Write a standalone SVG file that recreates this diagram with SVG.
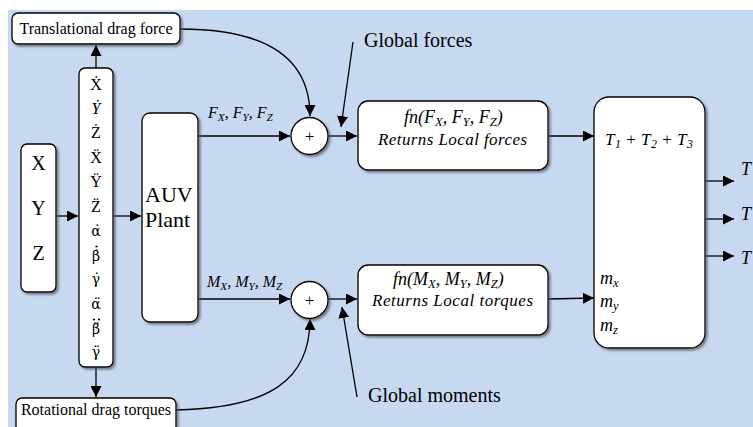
<svg xmlns="http://www.w3.org/2000/svg" width="753" height="427" viewBox="0 0 753 427">
<defs>
<filter id="sh" x="-20%" y="-20%" width="140%" height="140%">
<feDropShadow dx="2" dy="2" stdDeviation="1" flood-color="#555" flood-opacity="0.7"/>
</filter>
<marker id="ah2" viewBox="0 0 10 10" refX="10" refY="5" markerWidth="11" markerHeight="11" markerUnits="userSpaceOnUse" orient="auto">
<path d="M0,0 L10,5 L0,10 z" fill="#000"/>
</marker>
</defs>
<style>
.box{fill:#fff;stroke:#000;stroke-width:1.3;filter:url(#sh)}
.t{font-family:"Liberation Serif","DejaVu Serif","Times New Roman",serif;fill:#000}
.m{font-family:"Liberation Serif","DejaVu Serif","Times New Roman",serif;font-style:italic;fill:#000}
.g{font-family:"DejaVu Serif",serif;font-size:14px;fill:#000}
.c{fill:none;stroke:#000;stroke-width:1.3}
.sub{font-size:70%}
.dot{fill:#000}
</style>
<rect x="0" y="0" width="753" height="427" fill="#fff"/>
<rect x="8" y="10" width="745" height="417" fill="#c6d9f0"/>

<g id="connectors">
<line class="c" x1="96" y1="68" x2="96" y2="45" marker-end="url(#ah2)"/>
<line class="c" x1="96" y1="367" x2="96" y2="397" marker-end="url(#ah2)"/>
<line class="c" x1="56" y1="216" x2="78" y2="216" marker-end="url(#ah2)"/>
<line class="c" x1="113" y1="216" x2="141" y2="216" marker-end="url(#ah2)"/>
<line class="c" x1="198" y1="136" x2="290" y2="136" marker-end="url(#ah2)"/>
<line class="c" x1="198" y1="299" x2="290" y2="299" marker-end="url(#ah2)"/>
<line class="c" x1="328" y1="136" x2="357" y2="136" marker-end="url(#ah2)"/>
<line class="c" x1="328" y1="299" x2="357" y2="299" marker-end="url(#ah2)"/>
<line class="c" x1="548" y1="136" x2="594" y2="136" marker-end="url(#ah2)"/>
<line class="c" x1="548" y1="299" x2="594" y2="298" marker-end="url(#ah2)"/>
<path class="c" d="M180,29 C270,29 310,60 310,116" marker-end="url(#ah2)"/>
<path class="c" d="M176,410 C270,408 310,380 310,319" marker-end="url(#ah2)"/>
<line class="c" x1="353" y1="42" x2="341" y2="127" marker-end="url(#ah2)"/>
<line class="c" x1="357" y1="397" x2="342" y2="307" marker-end="url(#ah2)"/>
<line class="c" x1="705" y1="181" x2="734" y2="181" marker-end="url(#ah2)"/>
<line class="c" x1="705" y1="219" x2="734" y2="219" marker-end="url(#ah2)"/>
<line class="c" x1="705" y1="256" x2="734" y2="256" marker-end="url(#ah2)"/>
</g>

<g id="translational">
<rect class="box" x="12" y="13" width="168" height="31" rx="6"/>
<text class="t" x="96" y="34" font-size="16" text-anchor="middle">Translational drag force</text>
</g>

<g id="rotational">
<rect class="box" x="16" y="398" width="160" height="40" rx="6"/>
<text class="t" x="96" y="415" font-size="16" text-anchor="middle">Rotational drag torques</text>
</g>

<g id="xyz">
<rect class="box" x="21" y="144" width="35" height="148" rx="6"/>
<text class="t" x="38.5" y="170" font-size="20" text-anchor="middle">X</text>
<text class="t" x="38.5" y="215" font-size="20" text-anchor="middle">Y</text>
<text class="t" x="38.5" y="260" font-size="20" text-anchor="middle">Z</text>
</g>

<g id="states">
<rect class="box" x="79" y="68" width="34" height="299" rx="6"/>
<g class="t" font-size="16" text-anchor="middle">
<text x="96" y="90">Ẋ</text>
<text x="96" y="114" font-style="italic">Ẏ</text>
<text x="96" y="138">Ż</text>
<text x="96" y="163">Ẍ</text>
<text x="96" y="187">Ÿ</text>
<text x="96" y="212">Z̈</text>
</g>
<g class="g" text-anchor="middle">
<text x="96" y="236">α̇</text>
<text x="96" y="261">β̇</text>
<text x="96" y="284">γ̇</text>
<text x="96" y="309">α̈</text>
<text x="96" y="334">β̈</text>
<text x="96" y="357">γ̈</text>
</g>
<circle class="dot" cx="96.5" cy="246.5" r="1.1"/>
<circle class="dot" cx="94" cy="319.5" r="1.1"/>
<circle class="dot" cx="99" cy="319.5" r="1.1"/>
</g>

<g id="auv">
<rect class="box" x="142" y="113" width="56" height="209" rx="8"/>
<text class="t" x="145" y="202" font-size="22">AUV</text>
<text class="t" x="145" y="227" font-size="22">Plant</text>
</g>

<g id="flabel">
<text class="m" x="208" y="118" font-size="16">F<tspan class="sub" dy="3">X</tspan><tspan dy="-3">, F</tspan><tspan class="sub" dy="3">Y</tspan><tspan dy="-3">, F</tspan><tspan class="sub" dy="3">Z</tspan></text>
</g>
<g id="mlabel">
<text class="m" x="207" y="287" font-size="16">M<tspan class="sub" dy="3">X</tspan><tspan dy="-3">, M</tspan><tspan class="sub" dy="3">Y</tspan><tspan dy="-3">, M</tspan><tspan class="sub" dy="3">Z</tspan></text>
</g>

<g id="sum1">
<circle class="box" cx="309.5" cy="136" r="18.5"/>
<text class="t" x="309.5" y="142" font-size="17" text-anchor="middle">+</text>
</g>
<g id="sum2">
<circle class="box" cx="309.5" cy="300" r="18.5"/>
<text class="t" x="309.5" y="306" font-size="17" text-anchor="middle">+</text>
</g>

<g id="globalforces">
<text class="t" x="364" y="47" font-size="20">Global forces</text>
</g>
<g id="globalmoments">
<text class="t" x="368" y="402" font-size="20">Global moments</text>
</g>

<g id="localforces">
<rect class="box" x="358" y="101" width="190" height="69" rx="10"/>
<text class="m" x="404" y="123" font-size="18">fn(F<tspan class="sub" dy="3">X</tspan><tspan dy="-3">, F</tspan><tspan class="sub" dy="3">Y</tspan><tspan dy="-3">, F</tspan><tspan class="sub" dy="3">Z</tspan><tspan dy="-3">)</tspan></text>
<text class="m" x="378" y="145" font-size="17" textLength="149" lengthAdjust="spacing">Returns Local forces</text>
</g>

<g id="localtorques">
<rect class="box" x="358" y="265" width="190" height="70" rx="10"/>
<text class="m" x="393" y="285" font-size="18">fn(M<tspan class="sub" dy="3">X</tspan><tspan dy="-3">, M</tspan><tspan class="sub" dy="3">Y</tspan><tspan dy="-3">, M</tspan><tspan class="sub" dy="3">Z</tspan><tspan dy="-3">)</tspan></text>
<text class="m" x="372" y="306" font-size="17" textLength="161" lengthAdjust="spacing">Returns Local torques</text>
</g>

<g id="thrusters">
<rect class="box" x="594" y="97" width="111" height="251" rx="15"/>
<text class="m" x="605" y="145" font-size="17" textLength="88">T<tspan class="sub" dy="3">1</tspan><tspan dy="-3" font-style="normal"> + </tspan><tspan>T</tspan><tspan class="sub" dy="3">2</tspan><tspan dy="-3" font-style="normal"> + </tspan><tspan>T</tspan><tspan class="sub" dy="3">3</tspan></text>
<text class="m" x="600" y="284" font-size="18">m<tspan class="sub" dy="3">x</tspan></text>
<text class="m" x="600" y="307" font-size="18">m<tspan class="sub" dy="3">y</tspan></text>
<text class="m" x="600" y="331" font-size="18">m<tspan class="sub" dy="3">z</tspan></text>
</g>

<g id="outputs">
<text class="m" x="741" y="175" font-size="18">T</text>
<text class="m" x="741" y="220" font-size="18">T</text>
<text class="m" x="741" y="264" font-size="18">T</text>
</g>
</svg>
